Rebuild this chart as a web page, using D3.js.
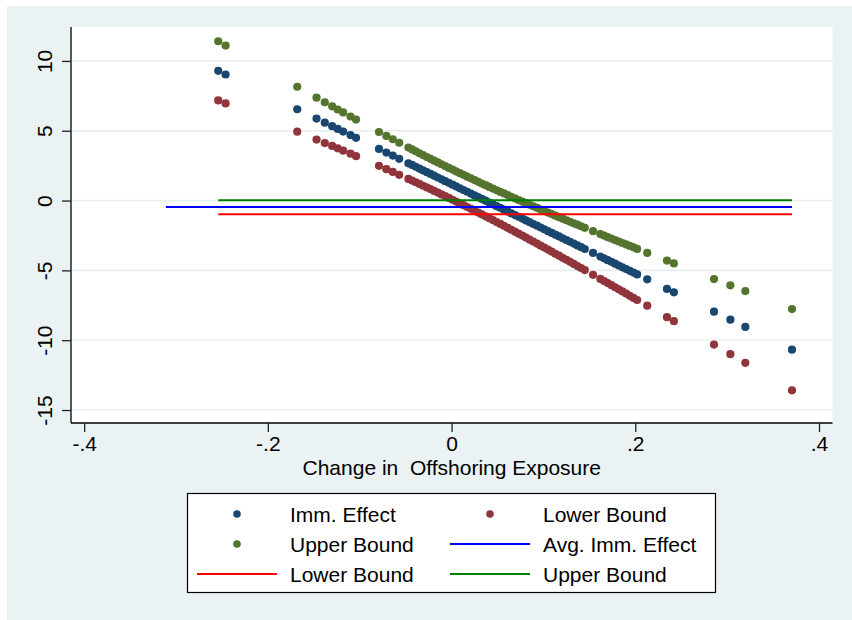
<!DOCTYPE html>
<html>
<head>
<meta charset="utf-8">
<script src="https://cdn.jsdelivr.net/npm/d3@7"></script>
<style>
    body { margin: 0; background: #fff; }
    svg text { font-family: "Liberation Sans", Arial, sans-serif; fill: #000; }
</style>
</head>
<body>
<svg></svg>
<script>
// values
let exposure = [-0.254, -0.246, -0.168, -0.147, -0.138, -0.130, -0.124, -0.118, -0.110, -0.104, -0.079, -0.071, -0.064, -0.057,
    -0.047, -0.043, -0.039, -0.035, -0.031, -0.027, -0.023, -0.019, -0.015, -0.011, -0.007, -0.003, 0.001, 0.005, 0.009, 0.013,
    0.017, 0.021, 0.025, 0.029, 0.033, 0.037, 0.041, 0.045, 0.049, 0.053, 0.057, 0.061, 0.065, 0.069, 0.073, 0.077, 0.081, 0.085,
    0.089, 0.093, 0.097, 0.101, 0.105, 0.109, 0.113, 0.117, 0.121, 0.125, 0.129, 0.133, 0.137, 0.141, 0.145,
    0.154, 0.162, 0.166, 0.170, 0.174, 0.178, 0.182, 0.186, 0.190, 0.194, 0.198, 0.202, 0.213, 0.2345, 0.242, 0.2857, 0.3035, 0.3198, 0.3706];

let immEffect = [9.29, 9.03, 6.54, 5.87, 5.58, 5.33, 5.13, 4.94, 4.69, 4.49, 3.70, 3.44, 3.22, 2.99,
    2.67, 2.55, 2.42, 2.29, 2.16, 2.03, 1.91, 1.78, 1.65, 1.52, 1.39, 1.27, 1.14, 1.01, 0.88, 0.75,
    0.63, 0.50, 0.37, 0.24, 0.12, -0.01, -0.14, -0.27, -0.40, -0.52, -0.65, -0.78, -0.91, -1.04, -1.16, -1.29, -1.42, -1.55,
    -1.68, -1.80, -1.93, -2.06, -2.19, -2.32, -2.44, -2.57, -2.70, -2.83, -2.95, -3.08, -3.21, -3.34, -3.47,
    -3.75, -4.01, -4.14, -4.27, -4.39, -4.52, -4.65, -4.78, -4.90, -5.03, -5.16, -5.29, -5.64, -6.33, -6.57, -7.96, -8.53, -9.05, -10.68];

let lowerBound = [7.17, 6.96, 4.93, 4.37, 4.12, 3.91, 3.74, 3.57, 3.36, 3.18, 2.49, 2.25, 2.05, 1.84,
    1.55, 1.43, 1.31, 1.19, 1.06, 0.94, 0.82, 0.69, 0.57, 0.44, 0.32, 0.19, 0.06, -0.07, -0.20, -0.33,
    -0.46, -0.59, -0.72, -0.86, -0.99, -1.13, -1.26, -1.40, -1.54, -1.67, -1.81, -1.95, -2.09, -2.23, -2.37, -2.51, -2.65, -2.80,
    -2.94, -3.08, -3.23, -3.37, -3.51, -3.66, -3.81, -3.95, -4.10, -4.24, -4.39, -4.54, -4.69, -4.83, -4.98,
    -5.32, -5.61, -5.76, -5.91, -6.06, -6.21, -6.36, -6.51, -6.66, -6.82, -6.97, -7.12, -7.53, -8.35, -8.64, -10.31, -11.00, -11.62, -13.59];

let upperBound = [11.41, 11.10, 8.15, 7.37, 7.04, 6.75, 6.52, 6.31, 6.02, 5.80, 4.91, 4.63, 4.39, 4.14,
    3.80, 3.66, 3.53, 3.39, 3.26, 3.12, 2.99, 2.86, 2.73, 2.60, 2.47, 2.34, 2.22, 2.09, 1.96, 1.84,
    1.71, 1.59, 1.47, 1.34, 1.22, 1.10, 0.98, 0.86, 0.74, 0.62, 0.51, 0.39, 0.27, 0.16, 0.04, -0.07, -0.19, -0.30,
    -0.41, -0.52, -0.64, -0.75, -0.86, -0.97, -1.08, -1.19, -1.30, -1.41, -1.52, -1.63, -1.73, -1.84, -1.95,
    -2.19, -2.40, -2.51, -2.62, -2.72, -2.83, -2.93, -3.04, -3.14, -3.25, -3.35, -3.46, -3.75, -4.30, -4.50, -5.62, -6.07, -6.48, -7.77];

// horizontal reference lines (average effect and its bounds)
let lineNames = ['Avg. Imm. Effect', 'Lower Bound', 'Upper Bound'];
let lineValues = [-0.46, -0.98, 0.02];
let lineStart = [-0.311, -0.254, -0.254];
let lineEnd = [0.3706, 0.3706, 0.3706];

let xTicks = [-0.4, -0.2, 0, 0.2, 0.4];
let xTickLabels = ['-.4', '-.2', '0', '.2', '.4'];
let yTicks = [10, 5, 0, -5, -10, -15];
let yTickLabels = ['10', '5', '0', '-5', '-10', '-15'];

let xTitle = 'Change in  Offshoring Exposure';

let width = 852;
let height = 620;

let svg = d3.select('svg')
    .attr('width', width)
    .attr('height', height);

// stata style colours
let navy = '#1a476f';
let maroon = '#90353b';
let forest = '#55752f';
let lineColors = ['#0000ff', '#ff0000', '#008000'];

// plot region in pixels
let plot = { left: 71, right: 832.5, top: 27, bottom: 423 };

let x = d3.scaleLinear()
    .domain([-0.4143, 0.4147])
    .range([plot.left, plot.right]);

let y = d3.scaleLinear()
    .domain([-15.93, 12.43])
    .range([plot.bottom, plot.top]);

// outer graph region
svg.append('rect')
    .attr('x', 7)
    .attr('y', 6)
    .attr('width', width - 7)
    .attr('height', height - 6)
    .style('fill', '#eaf2f3');

svg.append('rect')
    .attr('x', plot.left)
    .attr('y', plot.top)
    .attr('width', plot.right - plot.left)
    .attr('height', plot.bottom - plot.top)
    .style('fill', '#fff');

// gridlines
svg.append('g')
    .selectAll('line')
    .data(yTicks)
    .enter()
    .append('line')
    .attr('x1', plot.left)
    .attr('x2', plot.right)
    .attr('y1', d => y(d))
    .attr('y2', d => y(d))
    .style('stroke', '#e6eef0')
    .style('stroke-width', 1.6);

// y axis
let yAxis = svg.append('g')
    .attr('transform', `translate(${plot.left},0)`)
    .call(d3.axisLeft(y).tickValues(yTicks).tickSize(9).tickFormat((d, i) => yTickLabels[i]));

yAxis.select('.domain')
    .attr('d', `M0,${plot.top}V${plot.bottom}`)
    .style('stroke', '#000')
    .style('stroke-width', 1.3);
yAxis.selectAll('.tick line').style('stroke', '#222').style('stroke-width', 1.3);
yAxis.selectAll('.tick text')
    .attr('x', null)
    .attr('dy', null)
    .attr('transform', 'translate(-19,0) rotate(-90)')
    .attr('text-anchor', 'middle')
    .style('font-size', '21px')
    .style('font-family', '"Liberation Sans", Arial, sans-serif');

// x axis
let xAxis = svg.append('g')
    .attr('transform', `translate(0,${plot.bottom})`)
    .call(d3.axisBottom(x).tickValues(xTicks).tickSize(9).tickFormat((d, i) => xTickLabels[i]));

xAxis.select('.domain')
    .attr('d', `M${plot.left},0H${plot.right}`)
    .style('stroke', '#000')
    .style('stroke-width', 1.3);
xAxis.selectAll('.tick line').style('stroke', '#222').style('stroke-width', 1.3);
xAxis.selectAll('.tick text')
    .attr('y', 28)
    .attr('dy', null)
    .style('font-size', '21px')
    .style('font-family', '"Liberation Sans", Arial, sans-serif');

svg.append('text')
    .attr('x', (plot.left + plot.right) / 2)
    .attr('y', 475)
    .attr('text-anchor', 'middle')
    .style('white-space', 'pre')
    .style('font-size', '21px')
    .text(xTitle);

// scatter series, drawn in stata order
let series = [
    { name: 'Imm. Effect', values: immEffect, color: navy },
    { name: 'Lower Bound', values: lowerBound, color: maroon },
    { name: 'Upper Bound', values: upperBound, color: forest }
];

series.forEach(s => {
    svg.append('g')
        .selectAll('circle')
        .data(exposure)
        .enter()
        .append('circle')
        .attr('cx', d => x(d))
        .attr('cy', (d, i) => y(s.values[i]))
        .attr('r', 4.1)
        .style('fill', s.color);
});

// horizontal lines
svg.append('g')
    .selectAll('line')
    .data(lineValues)
    .enter()
    .append('line')
    .attr('x1', (d, i) => x(lineStart[i]))
    .attr('x2', (d, i) => x(lineEnd[i]))
    .attr('y1', d => y(d))
    .attr('y2', d => y(d))
    .style('stroke', (d, i) => lineColors[i])
    .style('stroke-width', 2);

// legend
let legend = svg.append('g');
legend.append('rect')
    .attr('x', 187.5)
    .attr('y', 493.5)
    .attr('width', 528)
    .attr('height', 99)
    .style('fill', '#fff')
    .style('stroke', '#000')
    .style('stroke-width', 1.2);

let legendItems = [
    { label: series[0].name, type: 'dot', color: navy },
    { label: series[1].name, type: 'dot', color: maroon },
    { label: series[2].name, type: 'dot', color: forest },
    { label: lineNames[0], type: 'line', color: lineColors[0] },
    { label: lineNames[1], type: 'line', color: lineColors[1] },
    { label: lineNames[2], type: 'line', color: lineColors[2] }
];

let colKeyX = [237, 490];
let colTextX = [290, 543];
let rowY = [514, 544, 574];

legendItems.forEach((item, i) => {
    let col = i % 2;
    let row = Math.floor(i / 2);
    let g = legend.append('g')
        .attr('transform', `translate(0,${rowY[row]})`);

    if (item.type === 'dot') {
        g.append('circle')
            .attr('cx', colKeyX[col])
            .attr('cy', 0)
            .attr('r', 3.8)
            .style('fill', item.color);
    } else {
        g.append('line')
            .attr('x1', colKeyX[col] - 40)
            .attr('x2', colKeyX[col] + 40)
            .attr('y1', 0)
            .attr('y2', 0)
            .style('stroke', item.color)
            .style('stroke-width', 2);
    }

    g.append('text')
        .attr('x', colTextX[col])
        .attr('y', 7.5)
        .style('font-size', '21px')
        .text(item.label);
});
</script>
</body>
</html>
